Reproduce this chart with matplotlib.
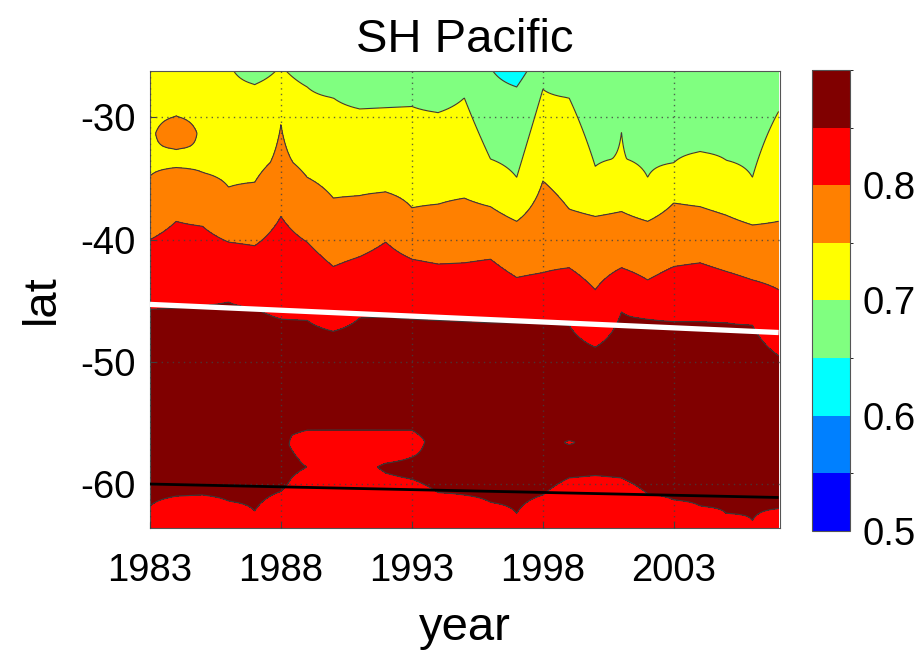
import numpy as np
import matplotlib
matplotlib.use('Agg')
import matplotlib.pyplot as plt
from matplotlib.colors import ListedColormap, BoundaryNorm

plt.rcParams['font.family'] = ['Liberation Sans', 'DejaVu Sans']
plt.rcParams['axes.unicode_minus'] = False

nan = np.nan
years = np.arange(1983, 2008)
LAT_TOP, LAT_BOT = -26.2, -63.6

# value at the northern edge of the domain
top_val = [0.72, 0.72, 0.72, 0.705, 0.68, 0.705, 0.68, 0.665, 0.665, 0.665,
           0.665, 0.665, 0.665, 0.652, 0.63, 0.68, 0.665, 0.665, 0.665, 0.665,
           0.665, 0.665, 0.665, 0.665, 0.665]
# latitude of contour crossings per year
b70 = [nan, nan, nan, nan, -27.3, nan, -27.5, -28.4, -29.3, -29.2,
       -29.1, -29.6, -28.4, -33.4, -34.9, -27.7, -28.4, -34.0, -31.2, -34.9,
       -33.7, -32.8, -33.5, -34.9, -29.5]
b75 = [-34.8, -34.1, -34.5, -35.7, -35.3, -30.6, -34.9, -36.6, -36.4, -36.1,
       -37.4, -37.1, -36.6, -37.3, -38.5, -35.2, -37.5, -38.1, -37.7, -38.5,
       -37.0, -37.3, -38.0, -38.8, -38.5]
b80 = [-40.0, -38.5, -38.9, -40.2, -40.5, -38.1, -40.2, -42.2, -41.4, -40.2,
       -41.6, -42.0, -41.9, -41.6, -43.1, -42.7, -42.3, -44.1, -42.3, -43.3,
       -42.2, -41.9, -42.6, -43.3, -44.1]
b85n = [-45.7, -45.6, -45.4, -45.1, -45.6, -46.5, -46.6, -47.5, -46.4, -46.3,
        -46.5, -46.6, -46.7, -46.8, -46.8, -46.8, -47.0, -48.8, -45.9, -46.5,
        -46.7, -46.7, -46.8, -47.0, -49.5]
b85s = [-61.8, -61.0, -60.9, -61.4, -62.2, -60.6, nan, nan, nan, nan,
        -59.6, -60.7, -60.9, -61.5, -62.4, -60.9, -59.5, -59.3, -59.5, -60.8,
        -61.3, -61.8, -62.4, -63.0, -62.0]
core_lat, core_val = -52.5, 0.88
bot_val = 0.83

# extra (year, lat, value) points for small features
extra = [
    (1984, -29.9, 0.75), (1984, -31.3, 0.795), (1984, -32.6, 0.75), (1984, -33.3, 0.742),
    (1988, -33.7, 0.757),
    (1997, -27.5, 0.65),
    (2001, -33.4, 0.7015),
    (1988, -56.0, 0.855), (1988, -58.0, 0.865), (1988, -59.8, 0.855),
    (1989, -55.6, 0.85), (1989, -56.8, 0.83), (1989, -58.6, 0.85), (1989, -59.5, 0.84),
    (1990, -55.6, 0.85), (1990, -56.8, 0.82), (1990, -58.6, 0.84), (1990, -60.0, 0.83),
    (1991, -55.6, 0.85), (1991, -56.8, 0.82), (1991, -58.6, 0.84), (1991, -60.0, 0.83),
    (1992, -55.6, 0.85), (1992, -56.8, 0.825), (1992, -58.6, 0.855), (1992, -59.6, 0.845),
    (1993, -55.6, 0.85), (1993, -56.5, 0.835), (1993, -57.8, 0.85), (1993, -58.8, 0.86),
    (1999, -56.0, 0.86), (1999, -56.6, 0.846), (1999, -57.2, 0.86),
]

line_white_years = [1983, 2007]
line_white_lats = [-45.3, -47.6]
line_black_years = [1983, 2007]
line_black_lats = [-60.0, -61.1]

levels = [0.5, 0.55, 0.6, 0.65, 0.7, 0.75, 0.8, 0.85, 0.9]
colors = ['#0000ff', '#0080ff', '#00ffff', '#80ff80', '#ffff00', '#ff8000', '#ff0000', '#800000']

# build field column by column from the read-off crossings
lats = np.linspace(LAT_BOT, LAT_TOP, 400)
Z = np.zeros((len(lats), len(years)))
for i, yr in enumerate(years):
    pts = [(LAT_TOP, top_val[i]), (LAT_BOT, bot_val), (core_lat, core_val)]
    for arr, v in [(b70, 0.70), (b75, 0.75), (b80, 0.80), (b85n, 0.85), (b85s, 0.85)]:
        if not np.isnan(arr[i]):
            pts.append((arr[i], v))
    pts += [(la, v) for (y, la, v) in extra if y == yr]
    pts.sort()
    Z[:, i] = np.interp(lats, [p[0] for p in pts], [p[1] for p in pts])

fig = plt.figure(figsize=(9.23, 6.57), dpi=100)
ax = fig.add_axes([0.1625, 0.1963, 0.6825, 0.6956])
cax = fig.add_axes([0.8797, 0.1918, 0.0412, 0.7017])

cmap = ListedColormap(colors)
norm = BoundaryNorm(levels, cmap.N)
cf = ax.contourf(years, lats, Z, levels=levels, cmap=cmap, norm=norm, zorder=1)
ax.contour(years, lats, Z, levels=levels[1:-1], colors='#3a3a3a', linewidths=0.8, zorder=1.5)

ax.plot(line_white_years, line_white_lats, color='white', lw=3.8, zorder=3, solid_capstyle='butt')
ax.plot(line_black_years, line_black_lats, color='black', lw=2.0, zorder=3, solid_capstyle='butt')

ax.set_xlim(1983, 2007.05)
ax.set_ylim(LAT_BOT, LAT_TOP)
ax.set_xticks([1983, 1988, 1993, 1998, 2003])
ax.set_yticks([-60, -50, -40, -30])
ax.set_axisbelow(False)
ax.grid(True, ls=(0, (1, 3)), color='#404040', lw=1.0, alpha=0.8)
ax.tick_params(direction='in', length=4, width=0.8, color='#404040', labelsize=27.5)
ax.tick_params(axis='x', pad=18)
ax.tick_params(axis='y', pad=10)
for s in ax.spines.values():
    s.set_color('#555555')
    s.set_linewidth(0.8)

ax.set_title('SH Pacific', fontsize=34, pad=14)
ax.set_xlabel('year', fontsize=34, labelpad=12)
ax.set_ylabel('lat', fontsize=34, labelpad=12)

cb = fig.colorbar(cf, cax=cax, ticks=[0.5, 0.6, 0.7, 0.8])
cb.ax.set_yticklabels(['0.5', '0.6', '0.7', '0.8'])
cb.ax.tick_params(length=0, labelsize=27.5, pad=9)
cb.outline.set_edgecolor('#555555')
cb.outline.set_linewidth(0.8)

fig.savefig('out.png', dpi=100)
